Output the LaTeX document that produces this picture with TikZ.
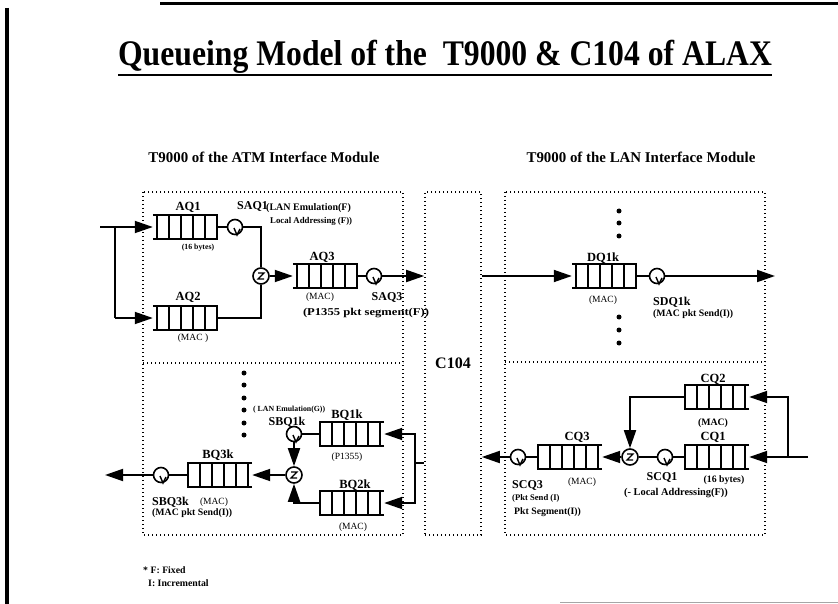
\documentclass[tikz,border=0pt]{standalone}
\usepackage{fontspec}
\usepackage{graphicx}
\setmainfont{Liberation Serif}
\usetikzlibrary{arrows.meta,calc}
\tikzset{
  ln/.style={line width=1.8pt},
  arr/.style={line width=1.8pt,-{Triangle[length=18pt,width=12pt]}},
  qline/.style={line width=1.6pt},
  dotbox/.style={line width=1.6pt, dash pattern=on 1.4pt off 2.6pt},
  qbox/.style={minimum width=64pt, minimum height=24pt, inner sep=0pt, draw=none},
  srv/.style={circle, draw, line width=1.6pt, minimum size=15pt, inner sep=0pt},
  mrg/.style={circle, draw, line width=1.6pt, minimum size=16pt, inner sep=0pt},
  lab/.style={font=\bfseries\fontsize{12.5}{13}\selectfont, inner sep=0pt},
  slab/.style={font=\bfseries\fontsize{12}{13}\selectfont, inner sep=0pt},
  sm/.style={font=\bfseries\fontsize{9.8}{11}\selectfont, inner sep=0pt},
  smr/.style={font=\fontsize{9.5}{11}\selectfont, inner sep=0pt},
  hdr/.style={font=\bfseries\fontsize{14.9}{16}\selectfont, inner sep=0pt},
  bigdot/.style={circle, fill, minimum size=5pt, inner sep=0pt},
}
\newcommand\fs[1]{\fontsize{#1}{#1}\selectfont}
\newcommand\queueL[3]{%
  \node[qbox] (#1) at (#2,#3) {};
  \draw[qline] ([xshift=4pt]#1.north west) rectangle (#1.south east);
  \draw[qline] (#1.north west) -- ([xshift=4pt]#1.north west);
  \draw[qline] (#1.south west) -- ([xshift=4pt]#1.south west);
  \foreach \k in {1,2,3,4} \draw[qline] ([xshift={(4+12*\k)*1pt}]#1.north west) -- ([xshift={(4+12*\k)*1pt}]#1.south west);
}
\newcommand\queueR[3]{%
  \node[qbox] (#1) at (#2,#3) {};
  \draw[qline] (#1.north west) rectangle ([xshift=-4pt]#1.south east);
  \draw[qline] (#1.north east) -- ([xshift=-4pt]#1.north east);
  \draw[qline] (#1.south east) -- ([xshift=-4pt]#1.south east);
  \foreach \k in {1,2,3,4} \draw[qline] ([xshift={(12*\k)*1pt}]#1.north west) -- ([xshift={(12*\k)*1pt}]#1.south west);
}
\newcommand\server[3]{%
  \node[srv] (#1) at (#2,#3) {};
  \draw[line width=1.4pt] ([xshift=-1pt,yshift=-1pt]#1.center) -- ([xshift=2pt,yshift=-8pt]#1.center) -- ([xshift=5pt,yshift=-2pt]#1.center);
}
\newcommand\merger[3]{%
  \node[mrg] (#1) at (#2,#3) {};
  \draw[line width=1.1pt] ([xshift=-3pt,yshift=3pt]#1.center) -- ([xshift=3pt,yshift=3pt]#1.center) -- ([xshift=-3pt,yshift=-3pt]#1.center) -- ([xshift=3pt,yshift=-3pt]#1.center);
}
\begin{document}
\begin{tikzpicture}[x=1pt,y=-1pt]
\useasboundingbox (0,0) rectangle (838,604);
% frame marks
\draw[line width=3pt] (160,4) -- (838,4);
\draw[line width=4pt] (7,8) -- (7,604);
\draw[line width=1pt, black!35] (560,602) -- (838,602);
% title
\node[inner sep=0pt] (title) at (445,57) {\scalebox{0.88}[1]{\bfseries\fontsize{36}{38}\selectfont Queueing Model of the \ T9000 \& C104 of ALAX}};
\draw[line width=2pt] (118,75) -- (772,75);
\node[hdr] (hA) at (264,157) {T9000 of the ATM Interface Module};
\node[hdr] (hL) at (641,157) {T9000 of the LAN Interface Module};
% dotted boxes
\draw[dotbox] (143,192) rectangle (403,535);
\draw[dotbox] (143,363) -- (403,363);
\draw[dotbox] (505,192) rectangle (765,535);
\draw[dotbox] (505,362) -- (765,362);
\node[dotbox, draw, minimum width=56pt, minimum height=343pt, inner sep=0pt, font=\bfseries\fontsize{16}{17}\selectfont] (C104) at (453,363.5) {C104};

% ---- left top
\coordinate (in1) at (100,227);
\coordinate (jA) at (115,227);
\coordinate (jA2) at (115,318);
\queueL{AQ1}{185}{227}
\server{SAQ1}{235}{227}
\queueL{AQ2}{185}{318}
\merger{MA}{261}{276}
\queueL{AQ3}{325}{276}
\server{SAQ3}{374}{276}
\draw[arr] (in1) -- (AQ1.west);
\draw[ln] (jA) -- (jA2);
\draw[arr] (jA2) -- (AQ2.west);
\draw[ln] (AQ1.east) -- (SAQ1);
\draw[ln] (SAQ1) -| (MA);
\draw[ln] (AQ2.east) -| (MA);
\draw[arr] (MA) -- (AQ3.west);
\draw[ln] (AQ3.east) -- (SAQ3);
\draw[arr] (SAQ3) -- (SAQ3 -| C104.west);
\node[lab] (tAQ1) at (188,207) {AQ1};
\node[sm, font=\bfseries\fs{7.8}] (tAQ1b) at (198,248) {(16 bytes)};
\node[slab, anchor=west] (tSAQ1) at (237,207) {SAQ1};
\node[sm, anchor=west, font=\bfseries\fs{10}] (tSAQ1b) at (266,208) {(LAN Emulation(F)};
\node[sm, anchor=west, font=\bfseries\fs{8.8}] (tSAQ1c) at (270,221) {Local Addressing (F))};
\node[lab] (tAQ2) at (188,297) {AQ2};
\node[smr] (tAQ2b) at (193,338) {(MAC )};
\node[lab] (tAQ3) at (322,257) {AQ3};
\node[smr] (tAQ3b) at (320,297) {(MAC)};
\node[slab] (tSAQ3) at (387,297) {SAQ3};
\node[sm] (tSAQ3b) at (366,313) {\scalebox{1.2}[1]{\bfseries\fs{10.5}(P1355 pkt segment(F))}};

% ---- left bottom
\foreach \yy [count=\i] in {373,385,398,410,423,435} \node[bigdot] (dl\i) at (244,\yy) {};
\coordinate (jB) at (415,463);
\coordinate (outL) at (105,475);
\queueR{BQ1k}{352}{434}
\server{SBQ1k}{294}{434}
\queueR{BQ2k}{352}{503}
\merger{MB}{294}{475}
\queueR{BQ3k}{220}{475}
\server{SBQ3k}{161}{475}
\draw[ln] (C104.west |- jB) -- (jB);
\draw[arr] (jB) |- (BQ1k.east);
\draw[arr] (jB) |- (BQ2k.east);
\draw[ln] (BQ1k.west) -- (SBQ1k);
\draw[arr] (SBQ1k) -- (MB);
\draw[arr] (BQ2k.west) -| (MB);
\draw[arr] (MB) -- (BQ3k.east);
\draw[ln] (BQ3k.west) -- (SBQ3k);
\draw[arr] (SBQ3k) -- (outL);
\node[sm, anchor=west, font=\bfseries\fs{7.8}] (tSBQ1b) at (253,410) {( LAN Emulation(G))};
\node[slab] (tSBQ1) at (287,422) {SBQ1k};
\node[lab] (tBQ1) at (347,415) {BQ1k};
\node[smr] (tBQ1b) at (347,457) {(P1355)};
\node[lab] (tBQ2) at (355,485) {BQ2k};
\node[smr] (tBQ2b) at (353,527) {(MAC)};
\node[lab] (tBQ3) at (218,455) {BQ3k};
\node[slab, anchor=west] (tSBQ3) at (152,502) {SBQ3k};
\node[smr] (tSBQ3b) at (214,502) {(MAC)};
\node[sm, anchor=west] (tSBQ3c) at (152,513) {(MAC pkt Send(I))};

% ---- right top
\foreach \yy [count=\i] in {211,223,236,317,330,343} \node[bigdot] (dr\i) at (619,\yy) {};
\coordinate (outR) at (775,276);
\queueL{DQ1k}{604}{276}
\server{SDQ1k}{657}{276}
\draw[arr] (C104.east |- DQ1k) -- (DQ1k.west);
\draw[ln] (DQ1k.east) -- (SDQ1k);
\draw[arr] (SDQ1k) -- (outR);
\node[lab] (tDQ1) at (603,258) {DQ1k};
\node[smr] (tDQ1b) at (603,300) {(MAC)};
\node[slab, anchor=west] (tSDQ1) at (653,302) {SDQ1k};
\node[sm, anchor=west] (tSDQ1b) at (653,314) {(MAC pkt Send(I))};

% ---- right bottom
\coordinate (inR) at (808,457);
\coordinate (jC) at (788,457);
\queueR{CQ2}{717}{397}
\queueR{CQ1}{717}{457}
\server{SCQ1}{665}{457}
\merger{MC}{630}{457}
\queueR{CQ3}{570}{457}
\server{SCQ3}{518}{457}
\draw[arr] (inR) -- (CQ1.east);
\draw[arr] (jC) |- (CQ2.east);
\draw[ln] (CQ1.west) -- (SCQ1);
\draw[ln] (SCQ1) -- (MC);
\draw[arr] (CQ2.west) -| (MC);
\draw[arr] (MC) -- (CQ3.east);
\draw[ln] (CQ3.west) -- (SCQ3);
\draw[arr] (SCQ3) -- (SCQ3 -| C104.east);
\node[lab] (tCQ2) at (713,379) {CQ2};
\node[sm] (tCQ2b) at (713,423) {(MAC)};
\node[lab] (tCQ1) at (713,437) {CQ1};
\node[sm] (tCQ1b) at (724,480) {(16 bytes)};
\node[lab] (tCQ3) at (577,437) {CQ3};
\node[smr] (tCQ3b) at (582,482) {(MAC)};
\node[slab] (tSCQ1) at (662,477) {SCQ1};
\node[sm, font=\bfseries\fs{10.4}] (tSCQ1b) at (676,493) {(- Local Addressing(F))};
\node[slab, anchor=west] (tSCQ3) at (512,485) {SCQ3};
\node[sm, anchor=west, font=\bfseries\fs{8.6}] (tSCQ3b) at (512,498) {(Pkt Send (I)};
\node[sm, anchor=west] (tSCQ3c) at (514,512) {Pkt Segment(I))};

% footnote
\node[sm, anchor=west] (fn1) at (143,570) {* F: Fixed};
\node[sm, anchor=west] (fn2) at (148,583) {I: Incremental};
\end{tikzpicture}
\end{document}
